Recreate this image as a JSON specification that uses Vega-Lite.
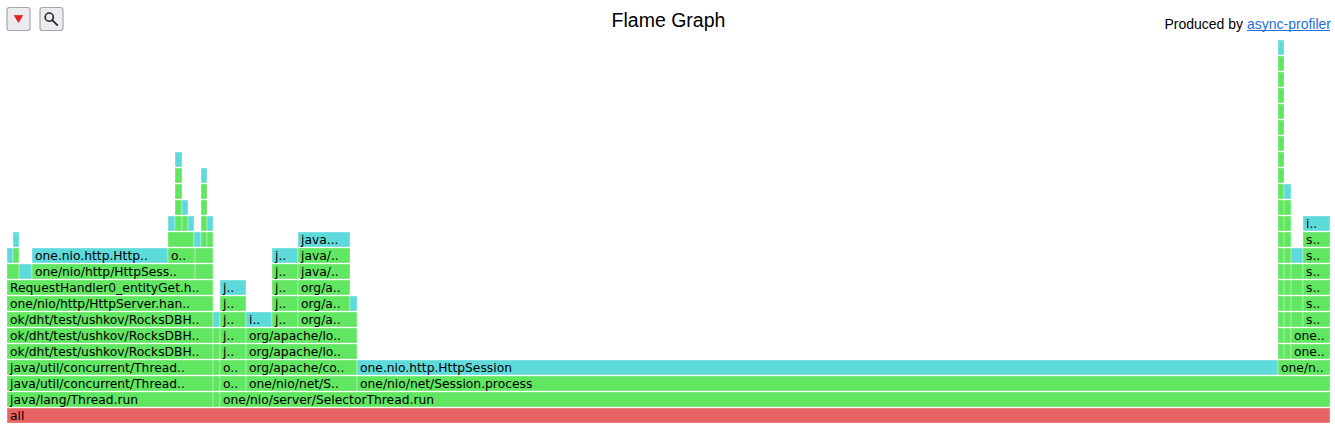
{
  "$schema": "https://vega.github.io/schema/vega-lite/v6.json",
  "width": 1323,
  "height": 416,
  "autosize": {"type": "none"},
  "padding": {"left": 7, "top": 7.5, "right": 5, "bottom": 12.5},
  "background": "white",
  "config": {"view": {"stroke": null}},
  "datasets": {
    "frames": [
      {"level": 0, "start": 0, "end": 1323, "name": "all", "kind": "root"},
      {"level": 1, "start": 0, "end": 206, "name": "java/lang/Thread.run", "kind": "jit"},
      {"level": 1, "start": 206, "end": 213, "name": "", "kind": "jit"},
      {"level": 1, "start": 213, "end": 1323, "name": "one/nio/server/SelectorThread.run", "kind": "jit"},
      {"level": 2, "start": 0, "end": 206, "name": "java/util/concurrent/Thread..", "kind": "jit"},
      {"level": 2, "start": 206, "end": 213, "name": "", "kind": "jit"},
      {"level": 2, "start": 213, "end": 239, "name": "o..", "kind": "jit"},
      {"level": 2, "start": 239, "end": 350, "name": "one/nio/net/S..", "kind": "jit"},
      {"level": 2, "start": 350, "end": 1323, "name": "one/nio/net/Session.process", "kind": "jit"},
      {"level": 3, "start": 0, "end": 206, "name": "java/util/concurrent/Thread..", "kind": "jit"},
      {"level": 3, "start": 206, "end": 213, "name": "", "kind": "jit"},
      {"level": 3, "start": 213, "end": 239, "name": "o..", "kind": "jit"},
      {"level": 3, "start": 239, "end": 350, "name": "org/apache/co..", "kind": "jit"},
      {"level": 3, "start": 350, "end": 1271, "name": "one.nio.http.HttpSession", "kind": "inlined"},
      {"level": 3, "start": 1271, "end": 1323, "name": "one/n..", "kind": "jit"},
      {"level": 4, "start": 0, "end": 206, "name": "ok/dht/test/ushkov/RocksDBH..", "kind": "jit"},
      {"level": 4, "start": 206, "end": 213, "name": "", "kind": "jit"},
      {"level": 4, "start": 213, "end": 239, "name": "j..", "kind": "jit"},
      {"level": 4, "start": 239, "end": 350, "name": "org/apache/lo..", "kind": "jit"},
      {"level": 4, "start": 1271, "end": 1277, "name": "", "kind": "jit"},
      {"level": 4, "start": 1277, "end": 1284, "name": "", "kind": "jit"},
      {"level": 4, "start": 1284, "end": 1323, "name": "one..", "kind": "jit"},
      {"level": 5, "start": 0, "end": 206, "name": "ok/dht/test/ushkov/RocksDBH..", "kind": "jit"},
      {"level": 5, "start": 206, "end": 213, "name": "", "kind": "jit"},
      {"level": 5, "start": 213, "end": 239, "name": "j..", "kind": "jit"},
      {"level": 5, "start": 239, "end": 350, "name": "org/apache/lo..", "kind": "jit"},
      {"level": 5, "start": 1271, "end": 1277, "name": "", "kind": "jit"},
      {"level": 5, "start": 1277, "end": 1284, "name": "", "kind": "jit"},
      {"level": 5, "start": 1284, "end": 1323, "name": "one..", "kind": "jit"},
      {"level": 6, "start": 0, "end": 206, "name": "ok/dht/test/ushkov/RocksDBH..", "kind": "jit"},
      {"level": 6, "start": 206, "end": 213, "name": "", "kind": "inlined"},
      {"level": 6, "start": 213, "end": 239, "name": "j..", "kind": "jit"},
      {"level": 6, "start": 239, "end": 265, "name": "i..", "kind": "inlined"},
      {"level": 6, "start": 265, "end": 291, "name": "j..", "kind": "jit"},
      {"level": 6, "start": 291, "end": 350, "name": "org/a..", "kind": "jit"},
      {"level": 6, "start": 1271, "end": 1277, "name": "", "kind": "jit"},
      {"level": 6, "start": 1277, "end": 1284, "name": "", "kind": "jit"},
      {"level": 6, "start": 1284, "end": 1296, "name": "", "kind": "jit"},
      {"level": 6, "start": 1296, "end": 1323, "name": "s..", "kind": "jit"},
      {"level": 7, "start": 0, "end": 206, "name": "one/nio/http/HttpServer.han..", "kind": "jit"},
      {"level": 7, "start": 213, "end": 239, "name": "j..", "kind": "jit"},
      {"level": 7, "start": 265, "end": 291, "name": "j..", "kind": "jit"},
      {"level": 7, "start": 291, "end": 343, "name": "org/a..", "kind": "jit"},
      {"level": 7, "start": 343, "end": 350, "name": "", "kind": "inlined"},
      {"level": 7, "start": 1271, "end": 1277, "name": "", "kind": "jit"},
      {"level": 7, "start": 1277, "end": 1284, "name": "", "kind": "jit"},
      {"level": 7, "start": 1284, "end": 1296, "name": "", "kind": "jit"},
      {"level": 7, "start": 1296, "end": 1323, "name": "s..", "kind": "jit"},
      {"level": 8, "start": 0, "end": 206, "name": "RequestHandler0_entityGet.h..", "kind": "jit"},
      {"level": 8, "start": 213, "end": 239, "name": "j..", "kind": "inlined"},
      {"level": 8, "start": 265, "end": 291, "name": "j..", "kind": "jit"},
      {"level": 8, "start": 291, "end": 343, "name": "org/a..", "kind": "jit"},
      {"level": 8, "start": 1271, "end": 1277, "name": "", "kind": "jit"},
      {"level": 8, "start": 1277, "end": 1284, "name": "", "kind": "jit"},
      {"level": 8, "start": 1284, "end": 1296, "name": "", "kind": "jit"},
      {"level": 8, "start": 1296, "end": 1323, "name": "s..", "kind": "jit"},
      {"level": 9, "start": 0, "end": 12, "name": "", "kind": "jit"},
      {"level": 9, "start": 12, "end": 25, "name": "", "kind": "inlined"},
      {"level": 9, "start": 25, "end": 188, "name": "one/nio/http/HttpSess..", "kind": "jit"},
      {"level": 9, "start": 188, "end": 206, "name": "", "kind": "jit"},
      {"level": 9, "start": 265, "end": 291, "name": "j..", "kind": "jit"},
      {"level": 9, "start": 291, "end": 343, "name": "java/..", "kind": "jit"},
      {"level": 9, "start": 1271, "end": 1277, "name": "", "kind": "jit"},
      {"level": 9, "start": 1277, "end": 1284, "name": "", "kind": "jit"},
      {"level": 9, "start": 1284, "end": 1296, "name": "", "kind": "jit"},
      {"level": 9, "start": 1296, "end": 1323, "name": "s..", "kind": "jit"},
      {"level": 10, "start": 0, "end": 6, "name": "", "kind": "inlined"},
      {"level": 10, "start": 6, "end": 12, "name": "", "kind": "jit"},
      {"level": 10, "start": 25, "end": 161, "name": "one.nio.http.Http..", "kind": "inlined"},
      {"level": 10, "start": 161, "end": 188, "name": "o..", "kind": "jit"},
      {"level": 10, "start": 188, "end": 206, "name": "", "kind": "jit"},
      {"level": 10, "start": 265, "end": 291, "name": "j..", "kind": "inlined"},
      {"level": 10, "start": 291, "end": 343, "name": "java/..", "kind": "jit"},
      {"level": 10, "start": 1271, "end": 1277, "name": "", "kind": "jit"},
      {"level": 10, "start": 1277, "end": 1284, "name": "", "kind": "jit"},
      {"level": 10, "start": 1284, "end": 1296, "name": "", "kind": "inlined"},
      {"level": 10, "start": 1296, "end": 1323, "name": "s..", "kind": "jit"},
      {"level": 11, "start": 6, "end": 12, "name": "", "kind": "inlined"},
      {"level": 11, "start": 161, "end": 187, "name": "", "kind": "jit"},
      {"level": 11, "start": 187, "end": 194, "name": "", "kind": "inlined"},
      {"level": 11, "start": 194, "end": 200, "name": "", "kind": "jit"},
      {"level": 11, "start": 200, "end": 206, "name": "", "kind": "jit"},
      {"level": 11, "start": 291, "end": 343, "name": "java...", "kind": "inlined"},
      {"level": 11, "start": 1271, "end": 1277, "name": "", "kind": "jit"},
      {"level": 11, "start": 1277, "end": 1284, "name": "", "kind": "jit"},
      {"level": 11, "start": 1296, "end": 1323, "name": "s..", "kind": "jit"},
      {"level": 12, "start": 161, "end": 168, "name": "", "kind": "inlined"},
      {"level": 12, "start": 168, "end": 175, "name": "", "kind": "jit"},
      {"level": 12, "start": 175, "end": 181, "name": "", "kind": "jit"},
      {"level": 12, "start": 181, "end": 187, "name": "", "kind": "inlined"},
      {"level": 12, "start": 194, "end": 200, "name": "", "kind": "jit"},
      {"level": 12, "start": 200, "end": 206, "name": "", "kind": "inlined"},
      {"level": 12, "start": 1271, "end": 1277, "name": "", "kind": "jit"},
      {"level": 12, "start": 1277, "end": 1284, "name": "", "kind": "jit"},
      {"level": 12, "start": 1296, "end": 1323, "name": "i..", "kind": "inlined"},
      {"level": 13, "start": 168, "end": 175, "name": "", "kind": "jit"},
      {"level": 13, "start": 175, "end": 181, "name": "", "kind": "inlined"},
      {"level": 13, "start": 194, "end": 200, "name": "", "kind": "jit"},
      {"level": 13, "start": 1271, "end": 1277, "name": "", "kind": "jit"},
      {"level": 13, "start": 1277, "end": 1284, "name": "", "kind": "jit"},
      {"level": 14, "start": 168, "end": 175, "name": "", "kind": "jit"},
      {"level": 14, "start": 194, "end": 200, "name": "", "kind": "jit"},
      {"level": 14, "start": 1271, "end": 1277, "name": "", "kind": "jit"},
      {"level": 14, "start": 1277, "end": 1284, "name": "", "kind": "inlined"},
      {"level": 15, "start": 168, "end": 175, "name": "", "kind": "jit"},
      {"level": 15, "start": 194, "end": 200, "name": "", "kind": "inlined"},
      {"level": 15, "start": 1271, "end": 1277, "name": "", "kind": "jit"},
      {"level": 16, "start": 168, "end": 175, "name": "", "kind": "inlined"},
      {"level": 16, "start": 1271, "end": 1277, "name": "", "kind": "jit"},
      {"level": 17, "start": 1271, "end": 1277, "name": "", "kind": "jit"},
      {"level": 18, "start": 1271, "end": 1277, "name": "", "kind": "jit"},
      {"level": 19, "start": 1271, "end": 1277, "name": "", "kind": "jit"},
      {"level": 20, "start": 1271, "end": 1277, "name": "", "kind": "jit"},
      {"level": 21, "start": 1271, "end": 1277, "name": "", "kind": "jit"},
      {"level": 22, "start": 1271, "end": 1277, "name": "", "kind": "jit"},
      {"level": 23, "start": 1271, "end": 1277, "name": "", "kind": "inlined"}
    ]
  },
  "layer": [
    {
      "data": {"name": "frames"},
      "mark": {"type": "rect", "stroke": "white", "strokeWidth": 1, "strokeOpacity": 0.35},
      "encoding": {
        "x": {"field": "start", "type": "quantitative", "scale": {"domain": [0, 1323], "nice": false, "zero": false}, "axis": null},
        "x2": {"field": "end"},
        "y": {"field": "level", "type": "ordinal", "scale": {"domain": [25, 24, 23, 22, 21, 20, 19, 18, 17, 16, 15, 14, 13, 12, 11, 10, 9, 8, 7, 6, 5, 4, 3, 2, 1, 0], "paddingInner": 0.0625, "paddingOuter": 0.03125}, "axis": null},
        "color": {"field": "kind", "type": "nominal", "scale": {"domain": ["root", "jit", "inlined"], "range": ["#e86464", "#60e660", "#5fdada"]}, "legend": null}
      }
    },
    {
      "data": {"name": "frames"},
      "mark": {"type": "text", "align": "left", "baseline": "middle", "dx": 3, "font": "DejaVu Sans", "fontSize": 12.3, "color": "#000000"},
      "encoding": {
        "x": {"field": "start", "type": "quantitative"},
        "y": {"field": "level", "type": "ordinal"},
        "text": {"field": "name"}
      }
    },
    {
      "data": {"values": [{"label": "Flame Graph", "x": 661.5, "level": 25}]},
      "mark": {"type": "text", "align": "center", "baseline": "alphabetic", "dy": 11.5, "font": "Liberation Sans", "fontSize": 19.5, "color": "#000000"},
      "encoding": {
        "x": {"field": "x", "type": "quantitative"},
        "y": {"field": "level", "type": "ordinal"},
        "text": {"field": "label"}
      }
    },
    {
      "data": {"values": [{"label": "Produced by", "x": 1236, "level": 25}]},
      "mark": {"type": "text", "align": "right", "baseline": "alphabetic", "dy": 13, "font": "Liberation Sans", "fontSize": 14, "color": "#000000"},
      "encoding": {
        "x": {"field": "x", "type": "quantitative"},
        "y": {"field": "level", "type": "ordinal"},
        "text": {"field": "label"}
      }
    },
    {
      "data": {"values": [{"label": "async-profiler", "x": 1240, "level": 25}]},
      "mark": {"type": "text", "align": "left", "baseline": "alphabetic", "dy": 13, "font": "Liberation Sans", "fontSize": 14, "color": "#1f6fdc"},
      "encoding": {
        "x": {"field": "x", "type": "quantitative"},
        "y": {"field": "level", "type": "ordinal"},
        "text": {"field": "label"}
      }
    },
    {
      "data": {"values": [{"x": 1240, "x2": 1323, "level": 25}]},
      "mark": {"type": "rule", "color": "#1f6fdc", "strokeWidth": 1, "yOffset": 15},
      "encoding": {
        "x": {"field": "x", "type": "quantitative"},
        "x2": {"field": "x2"},
        "y": {"field": "level", "type": "ordinal"}
      }
    },
    {
      "data": {"values": [{"button": "reverse", "x": 11.5, "level": 25}, {"button": "search", "x": 44.5, "level": 25}]},
      "mark": {"type": "point", "shape": "M-0.78,-1H0.78Q1,-1 1,-0.78V0.78Q1,1 0.78,1H-0.78Q-1,1 -1,0.78V-0.78Q-1,-1 -0.78,-1Z", "size": 529, "filled": true, "fill": "#ececf0", "stroke": "#a6a6ae", "strokeWidth": 1.2, "opacity": 1, "yOffset": 3.5},
      "encoding": {
        "x": {"field": "x", "type": "quantitative"},
        "y": {"field": "level", "type": "ordinal"}
      }
    },
    {
      "data": {"values": [{"icon": "reverse", "x": 11.5, "level": 25}]},
      "mark": {"type": "point", "shape": "triangle-down", "size": 70, "filled": true, "fill": "#f01c1c", "stroke": "#b00000", "strokeWidth": 0.5, "opacity": 1, "yOffset": 3.5},
      "encoding": {
        "x": {"field": "x", "type": "quantitative"},
        "y": {"field": "level", "type": "ordinal"}
      }
    },
    {
      "data": {"values": [{"icon": "search", "x": 44.5, "level": 25}]},
      "mark": {"type": "point", "shape": "M0.25,-0.25A0.55,0.55 0 1,1 -0.85,-0.25A0.55,0.55 0 1,1 0.25,-0.25M0.1,0.15L0.85,0.9", "size": 220, "filled": false, "color": "#222222", "strokeWidth": 1.6, "opacity": 1, "yOffset": 3.5},
      "encoding": {
        "x": {"field": "x", "type": "quantitative"},
        "y": {"field": "level", "type": "ordinal"}
      }
    }
  ]
}
